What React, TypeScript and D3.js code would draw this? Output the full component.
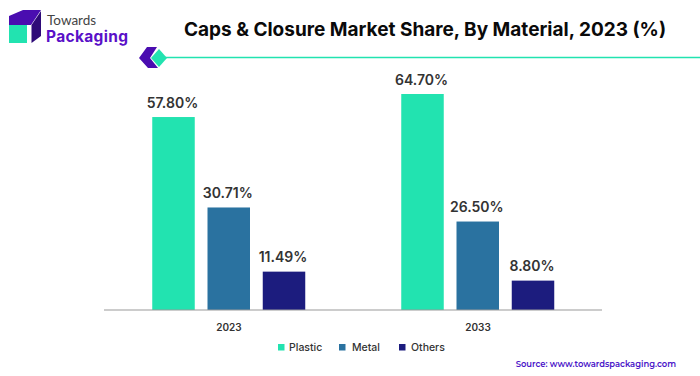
import React from "react";
import * as d3 from "d3";

const categories = ["2023", "2033"];
const seriesNames = ["Plastic", "Metal", "Others"];
const plastic = [57.8, 64.7];
const metal = [30.71, 26.5];
const others = [11.49, 8.8];
const labelsText = [["57.80%", "64.70%"], ["30.71%", "26.50%"], ["11.49%", "8.80%"]];
const colors = ["#22E3B0", "#2A72A0", "#1C1C7E"];
const seriesValues = [plastic, metal, others];

const title = "Caps & Closure Market Share, By Material, 2023 (%)";
const source = "Source: www.towardspackaging.com";

export default function App() {
  const baseY = 310;
  const y = d3.scaleLinear().domain([0, 64.7]).range([baseY, 94]);
  const x0 = d3.scaleBand<string>().domain(categories).range([104.5, 602.5]);
  const offset = d3.scaleLinear().domain([0, 2]).range([-55.5, 55]);
  const barW = 42.5;
  const font = "Inter, Roboto, sans-serif";
  const legendX = [278, 339, 399];
  const legendTextX = [289, 352, 411];
  return (
    <svg width={700} height={376} style={{ position: "fixed", left: 0, top: 0, background: "#fff" }}>
      <g>
        <path d="M9 16 L23 10 L41 10 L31 25 L9 25 Z" fill="#4A0DB0" />
        <path d="M31.5 25 L41 11 L41 36 L31.5 43 Z" fill="#2E0A78" />
        <rect x={9} y={25} width={18} height={18} fill="#22E3B0" />
        <text x={47} y={24.5} fontFamily="Lato, Inter, sans-serif" fontSize={13.5} fill="#444">Towards</text>
        <text x={46} y={42} fontFamily="Inter, sans-serif" fontWeight={700} fontSize={15.5} fill="#5A10C8" textLength={82}>Packaging</text>
      </g>
      <text x={425} y={36} textAnchor="middle" fontFamily={font} fontWeight={700} fontSize={19} fill="#0a0a0a">{title}</text>
      <path d="M147 47 L157 47 L150 58 L158 68 L148 68 L139 58 Z" fill="#4A0DB0" />
      <path d="M159 49 L167 58 L159 67 L151 58 Z" fill="#22E3B0" />
      <line x1={165} x2={700} y1={57.5} y2={57.5} stroke="#22E3B0" strokeWidth={1.5} />
      {categories.map((c, i) => {
        const cx = (x0(c) as number) + x0.bandwidth() / 2;
        return (
          <g key={c}>
            {seriesValues.map((s, k) => {
              const bx = cx + offset(k) - barW / 2;
              return (
                <g key={k}>
                  <rect x={bx} y={y(s[i])} width={barW} height={baseY - y(s[i])} fill={colors[k]} />
                  <text x={bx + barW / 2 - 1} y={y(s[i]) - 9.5} textAnchor="middle" fontFamily={font} fontWeight={600} fontSize={14} fill="#333">{labelsText[k][i]}</text>
                </g>
              );
            })}
            <text x={cx} y={331} textAnchor="middle" fontFamily={font} fontWeight={600} fontSize={10} fill="#333">{c}</text>
          </g>
        );
      })}
      <line x1={104} x2={602} y1={310} y2={310} stroke="#999" strokeWidth={1.2} />
      {seriesNames.map((n, k) => (
        <g key={n}>
          <rect x={legendX[k]} y={344} width={6.5} height={6.5} fill={colors[k]} />
          <text x={legendTextX[k]} y={351} fontFamily={font} fontWeight={500} fontSize={10.5} fill="#333">{n}</text>
        </g>
      ))}
      <text x={676} y={367} textAnchor="end" fontFamily="Montserrat, Inter, sans-serif" fontWeight={600} fontSize={8.4} fill="#4A14C8">{source}</text>
    </svg>
  );
}
